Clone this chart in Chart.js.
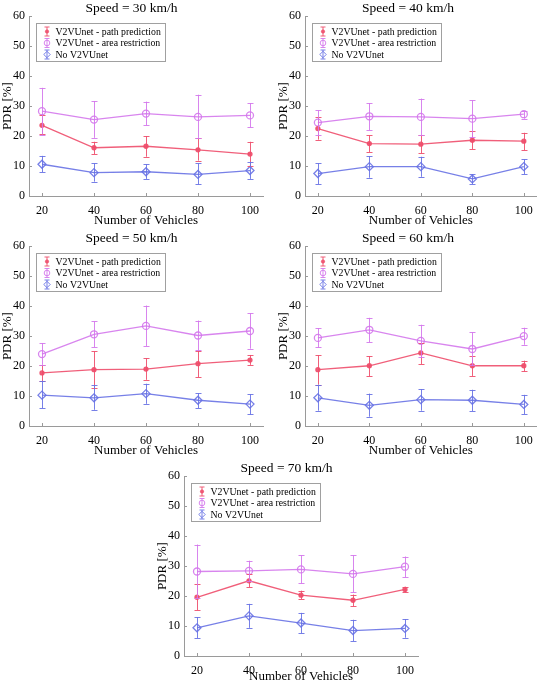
<!DOCTYPE html>
<html>
<head>
<meta charset="utf-8">
<script src="https://cdn.jsdelivr.net/npm/chart.js@4.4.1/dist/chart.umd.min.js"></script>
<style>
  html, body { margin: 0; padding: 0; background: #fff; }
  body { width: 542px; height: 684px; position: relative; overflow: hidden; }
  canvas { position: absolute; }
</style>
</head>
<body>
<canvas id="c30" width="271" height="228" style="left:0px;top:0px"></canvas>
<canvas id="c40" width="266" height="228" style="left:276px;top:0px"></canvas>
<canvas id="c50" width="271" height="228" style="left:0px;top:230px"></canvas>
<canvas id="c60" width="266" height="228" style="left:276px;top:230px"></canvas>
<canvas id="c70" width="271" height="224" style="left:155px;top:460px"></canvas>
<script>
const vehicles = [20, 40, 60, 80, 100];
const yTicks = [0, 10, 20, 30, 40, 50, 60];
const seriesNames = ["V2VUnet - path prediction", "V2VUnet - area restriction", "No V2VUnet"];

// speed = 30 km/h
const path30 = [23.6, 16.1, 16.6, 15.4, 14.0];
const path30Lo = [20.6, 14.0, 13.1, 11.8, 9.9];
const path30Hi = [26.9, 18.1, 20.0, 19.2, 18.1];
const area30 = [28.3, 25.5, 27.5, 26.4, 26.9];
const area30Lo = [20.5, 19.4, 23.6, 19.2, 22.9];
const area30Hi = [36.1, 31.7, 31.5, 33.8, 31.0];
const none30 = [10.6, 7.8, 8.1, 7.2, 8.5];
const none30Lo = [8.0, 4.8, 5.7, 3.9, 5.7];
const none30Hi = [13.4, 10.9, 10.6, 10.9, 11.4];

// speed = 40 km/h
const path40 = [22.5, 17.5, 17.3, 18.6, 18.3];
const path40Lo = [18.8, 14.7, 14.2, 15.6, 15.3];
const path40Hi = [26.2, 20.3, 20.3, 21.6, 21.1];
const area40 = [24.5, 26.6, 26.4, 25.8, 27.3];
const area40Lo = [20.3, 22.0, 20.3, 19.7, 25.8];
const area40Hi = [28.6, 31.0, 32.5, 31.9, 28.4];
const none40 = [7.5, 9.8, 9.8, 5.7, 9.8];
const none40Lo = [4.0, 6.1, 6.4, 4.0, 7.3];
const none40Hi = [10.9, 13.3, 13.1, 7.3, 12.2];

// speed = 50 km/h
const path50 = [17.7, 18.8, 19.0, 20.8, 22.0];
const path50Lo = [14.9, 12.7, 15.4, 16.3, 20.4];
const path50Hi = [20.4, 24.9, 22.6, 25.1, 23.7];
const area50 = [24.0, 30.6, 33.4, 30.2, 31.7];
const area50Lo = [20.4, 26.3, 26.7, 25.2, 25.8];
const area50Hi = [27.7, 34.9, 40.2, 35.2, 37.6];
const none50 = [10.3, 9.4, 10.8, 8.6, 7.3];
const none50Lo = [6.0, 5.4, 7.4, 6.0, 3.9];
const none50Hi = [15.1, 13.6, 14.1, 10.9, 10.6];

// speed = 60 km/h
const path60 = [18.8, 20.1, 24.4, 20.1, 20.1];
const path60Lo = [13.8, 16.6, 20.7, 16.7, 18.2];
const path60Hi = [23.6, 23.3, 27.6, 23.2, 21.8];
const area60 = [29.4, 32.1, 28.4, 25.7, 30.0];
const area60Lo = [26.2, 28.0, 23.0, 20.2, 27.1];
const area60Hi = [32.6, 36.1, 33.8, 31.3, 32.8];
const none60 = [9.4, 6.9, 8.8, 8.6, 7.2];
const none60Lo = [5.1, 3.1, 5.1, 5.0, 4.0];
const none60Hi = [13.8, 10.8, 12.3, 12.1, 10.4];

// speed = 70 km/h
const path70 = [19.6, 25.1, 20.3, 18.6, 22.2];
const path70Lo = [15.3, 23.0, 19.0, 16.6, 21.2];
const path70Hi = [24.1, 27.2, 21.8, 20.5, 23.1];
const area70 = [28.2, 28.4, 28.9, 27.4, 29.8];
const area70Lo = [19.2, 25.0, 24.2, 21.2, 26.3];
const area70Hi = [37.2, 31.8, 33.6, 33.6, 33.2];
const none70 = [9.4, 13.4, 11.0, 8.5, 9.2];
const none70Lo = [6.0, 9.4, 7.6, 5.0, 6.1];
const none70Hi = [13.0, 17.4, 14.4, 12.1, 12.3];

const SERIF = '"Liberation Serif", "DejaVu Serif", serif';
const RED = "rgba(238, 78, 108, 0.9)";
const MAGENTA = "rgba(212, 120, 236, 0.9)";
const BLUE = "rgba(104, 114, 228, 0.9)";
const AXIS_GRAY = "#9a9a9a";

Chart.defaults.font.family = SERIF;
Chart.defaults.color = "#000";

const toPoints = (vals) => vals.map((v, i) => ({ x: vehicles[i], y: v }));

// error bars, inward tick marks and the boxed legend
const errorBarPlugin = {
  id: "errorBars",
  afterDatasetsDraw(chart) {
    const { ctx } = chart;
    const xs = chart.scales.x;
    const ys = chart.scales.y;
    chart.data.datasets.forEach((ds) => {
      ctx.save();
      ctx.strokeStyle = ds.borderColor;
      ctx.lineWidth = 1;
      ds.errLo.forEach((lo, i) => {
        const px = Math.round(xs.getPixelForValue(vehicles[i])) + 0.5;
        const yLo = ys.getPixelForValue(lo);
        const yHi = ys.getPixelForValue(ds.errHi[i]);
        ctx.beginPath();
        ctx.moveTo(px, yLo);
        ctx.lineTo(px, yHi);
        ctx.moveTo(px - 3, Math.round(yLo) + 0.5);
        ctx.lineTo(px + 3, Math.round(yLo) + 0.5);
        ctx.moveTo(px - 3, Math.round(yHi) + 0.5);
        ctx.lineTo(px + 3, Math.round(yHi) + 0.5);
        ctx.stroke();
      });
      ctx.restore();
    });
  },
  afterDraw(chart) {
    const { ctx, chartArea } = chart;
    const xs = chart.scales.x;
    const ys = chart.scales.y;
    ctx.save();
    ctx.strokeStyle = AXIS_GRAY;
    ctx.lineWidth = 1;
    ctx.beginPath();
    xs.ticks.forEach((t) => {
      const px = Math.round(xs.getPixelForValue(t.value)) + 0.5;
      ctx.moveTo(px, chartArea.bottom);
      ctx.lineTo(px, chartArea.bottom - 3);
    });
    ys.ticks.forEach((t) => {
      const py = Math.round(ys.getPixelForValue(t.value)) + 0.5;
      ctx.moveTo(chartArea.left, py);
      ctx.lineTo(chartArea.left + 3, py);
    });
    ctx.stroke();

    // legend box
    const bx = Math.round(chartArea.left) + 7.5;
    const by = Math.round(chartArea.top) + 7.5;
    ctx.font = "9.8px " + SERIF;
    const textW = Math.max(...chart.data.datasets.map((d) => ctx.measureText(d.label).width));
    const bw = Math.round(textW + 24);
    const bh = 38;
    ctx.fillStyle = "#fff";
    ctx.fillRect(bx, by, bw, bh);
    ctx.strokeStyle = "#a0a0a0";
    ctx.strokeRect(bx, by, bw, bh);
    chart.data.datasets.forEach((ds, i) => {
      const cy = by + 8 + i * 11.5;
      const mx = bx + 10.5;
      ctx.strokeStyle = ds.borderColor;
      ctx.lineWidth = 1;
      ctx.beginPath();
      ctx.moveTo(mx, cy - 4.5);
      ctx.lineTo(mx, cy + 4.5);
      ctx.moveTo(mx - 2.5, cy - 4.5);
      ctx.lineTo(mx + 2.5, cy - 4.5);
      ctx.moveTo(mx - 2.5, cy + 4.5);
      ctx.lineTo(mx + 2.5, cy + 4.5);
      ctx.stroke();
      ctx.fillStyle = ds.pointBackgroundColor;
      Chart.helpers.drawPoint(ctx, {
        pointStyle: ds.pointStyle,
        radius: ds.pointRadius * 0.8,
        borderWidth: 1,
        rotation: 0,
      }, mx, cy);
      ctx.fillStyle = "#000";
      ctx.textBaseline = "middle";
      ctx.fillText(ds.label, bx + 19, cy + 0.5);
    });
    ctx.restore();
  },
};

const makeChart = (id, title, path, pathLo, pathHi, area, areaLo, areaHi, none, noneLo, noneHi, padRight, xHeight) => {
  const el = document.getElementById(id);
  return new Chart(el, {
    type: "line",
    data: {
      datasets: [
        {
          label: seriesNames[0],
          data: toPoints(path),
          errLo: pathLo,
          errHi: pathHi,
          borderColor: RED,
          backgroundColor: RED,
          pointBackgroundColor: RED,
          pointStyle: "circle",
          pointRadius: 2,
          borderWidth: 1.3,
        },
        {
          label: seriesNames[1],
          data: toPoints(area),
          errLo: areaLo,
          errHi: areaHi,
          borderColor: MAGENTA,
          backgroundColor: "rgba(0,0,0,0)",
          pointBackgroundColor: "rgba(0,0,0,0)",
          pointStyle: "circle",
          pointRadius: 3.5,
          borderWidth: 1.3,
        },
        {
          label: seriesNames[2],
          data: toPoints(none),
          errLo: noneLo,
          errHi: noneHi,
          borderColor: BLUE,
          backgroundColor: "rgba(0,0,0,0)",
          pointBackgroundColor: "rgba(0,0,0,0)",
          pointStyle: "rectRot",
          pointRadius: 4,
          borderWidth: 1.3,
        },
      ],
    },
    options: {
      responsive: false,
      animation: false,
      devicePixelRatio: 1,
      layout: { padding: { left: 0, right: padRight, top: 0, bottom: 0 } },
      plugins: {
        legend: { display: false },
        tooltip: { enabled: false },
        title: {
          display: true,
          text: title,
          font: { size: 13.5, weight: "normal" },
          color: "#000",
          padding: { top: 0, bottom: 0 },
        },
      },
      scales: {
        x: {
          type: "linear",
          min: 15,
          max: 105,
          afterBuildTicks: (s) => {
            s.ticks = vehicles.map((v) => ({ value: v }));
          },
          afterFit: (s) => {
            s.height = xHeight;
          },
          grid: { display: false, drawTicks: false },
          border: { display: true, color: AXIS_GRAY, width: 1 },
          ticks: { font: { size: 12 }, color: "#000", padding: 8, maxRotation: 0 },
          title: {
            display: true,
            text: "Number of Vehicles",
            font: { size: 13 },
            color: "#000",
            padding: { top: 0, bottom: 0 },
          },
        },
        y: {
          min: 0,
          max: 60,
          afterBuildTicks: (s) => {
            s.ticks = yTicks.map((v) => ({ value: v }));
          },
          afterFit: (s) => {
            s.width = 29;
          },
          grid: { display: false, drawTicks: false },
          border: { display: true, color: AXIS_GRAY, width: 1 },
          ticks: { font: { size: 12 }, color: "#000", padding: 4 },
          title: {
            display: true,
            text: "PDR [%]",
            font: { size: 13 },
            color: "#000",
            padding: { top: 0, bottom: 0 },
          },
        },
      },
    },
    plugins: [errorBarPlugin],
  });
};

makeChart("c30", "Speed = 30 km/h", path30, path30Lo, path30Hi, area30, area30Lo, area30Hi, none30, none30Lo, none30Hi, 8, 32);
makeChart("c40", "Speed = 40 km/h", path40, path40Lo, path40Hi, area40, area40Lo, area40Hi, none40, none40Lo, none40Hi, 2, 32);
makeChart("c50", "Speed = 50 km/h", path50, path50Lo, path50Hi, area50, area50Lo, area50Hi, none50, none50Lo, none50Hi, 8, 32);
makeChart("c60", "Speed = 60 km/h", path60, path60Lo, path60Hi, area60, area60Lo, area60Hi, none60, none60Lo, none60Hi, 2, 32);
makeChart("c70", "Speed = 70 km/h", path70, path70Lo, path70Hi, area70, area70Lo, area70Hi, none70, none70Lo, none70Hi, 8, 28);
</script>
</body>
</html>
